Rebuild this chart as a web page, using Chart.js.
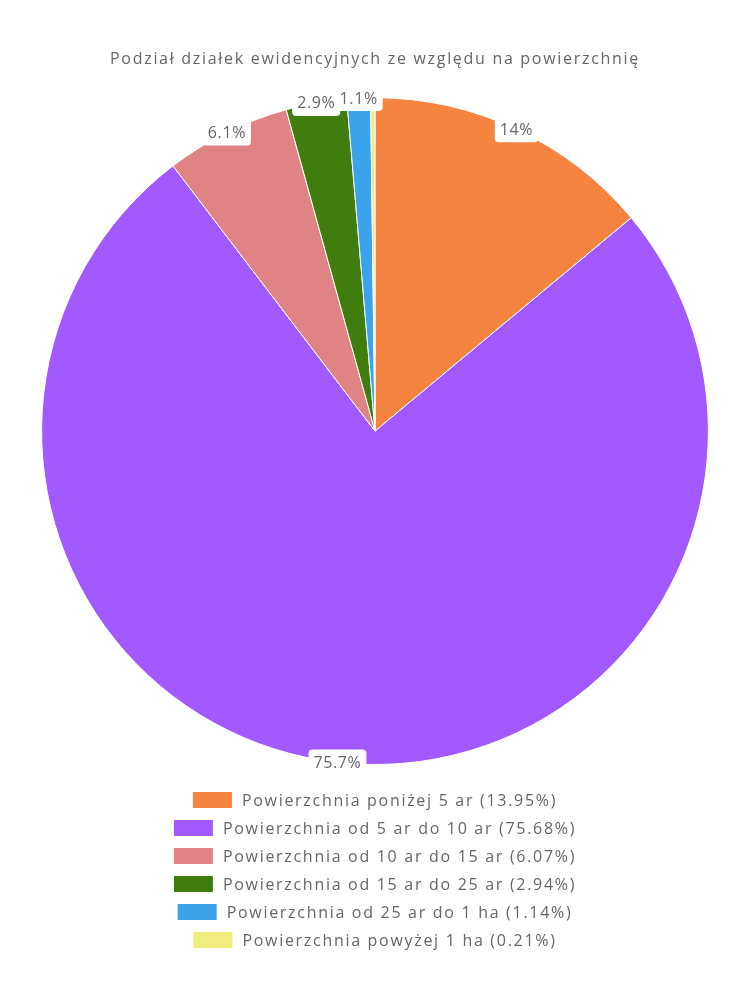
<!DOCTYPE html>
<html>
<head>
<meta charset="utf-8">
<title>Podział działek</title>
<script src="https://cdn.jsdelivr.net/npm/chart.js"></script>
<style>
  body { margin: 0; background: #fff; }
  #wrap { width: 750px; height: 1000px; }
</style>
</head>
<body>
<div id="wrap"><canvas id="pie"></canvas></div>
<script>
'use strict';

const titleText = 'Podział działek ewidencyjnych ze względu na powierzchnię';
const categories = [
    'Powierzchnia poniżej 5 ar',
    'Powierzchnia od 5 ar do 10 ar',
    'Powierzchnia od 10 ar do 15 ar',
    'Powierzchnia od 15 ar do 25 ar',
    'Powierzchnia od 25 ar do 1 ha',
    'Powierzchnia powyżej 1 ha'
];
const values = [13.95, 75.68, 6.07, 2.94, 1.14, 0.21];
const colors = ['#f58440', '#a259ff', '#e08384', '#3f7d0e', '#3aa3eb', '#f0ec7e'];

const FONT = "'Open Sans', sans-serif";
const TEXT = '#666';
const SPACING = '1.7px';

// wider tracking so the text takes roughly the room of the original rounded font
const tracking = {
    id: 'tracking',
    beforeDraw(chart) {
        chart.ctx.letterSpacing = SPACING;
    }
};

// labels on the outer edge of each slice, white rounded box behind
const sliceLabels = {
    id: 'sliceLabels',
    afterDatasetsDraw(chart) {
        const ctx = chart.ctx;
        const meta = chart.getDatasetMeta(0);
        ctx.save();
        ctx.font = '16px ' + FONT;
        ctx.letterSpacing = '0.6px';
        ctx.textAlign = 'center';
        ctx.textBaseline = 'middle';
        meta.data.forEach(function (arc, i) {
            const v = values[i];
            if (v < 1) return;
            const p = arc.getProps(['x', 'y', 'startAngle', 'endAngle', 'outerRadius'], true);
            const mid = (p.startAngle + p.endAngle) / 2;
            const cx = p.x + Math.cos(mid) * p.outerRadius;
            const cy = p.y + Math.sin(mid) * p.outerRadius;
            const txt = (Math.round(v * 10) / 10) + '%';
            const w = ctx.measureText(txt).width + 10;
            const h = 26;
            ctx.fillStyle = '#fff';
            ctx.beginPath();
            ctx.roundRect(cx - w / 2, cy - h / 2, w, h, 4);
            ctx.fill();
            ctx.fillStyle = TEXT;
            ctx.fillText(txt, cx, cy + 1);
        });
        ctx.restore();
    }
};

// one legend entry per row, centred under the pie
const rowLegend = {
    id: 'rowLegend',
    afterDraw(chart) {
        const ctx = chart.ctx;
        const centerX = chart.width / 2;
        const top = chart.chartArea.bottom + 35;
        ctx.save();
        ctx.font = '16px ' + FONT;
        ctx.letterSpacing = SPACING;
        ctx.textBaseline = 'middle';
        ctx.textAlign = 'left';
        categories.forEach(function (name, i) {
            const txt = name + ' (' + values[i].toFixed(2) + '%)';
            const tw = ctx.measureText(txt).width;
            const boxW = 39, gap = 10;
            const total = boxW + gap + tw;
            const x0 = centerX - total / 2;
            const y = top + i * 28;
            ctx.fillStyle = colors[i];
            ctx.fillRect(x0, y - 8, boxW, 16);
            ctx.fillStyle = TEXT;
            ctx.fillText(txt, x0 + boxW + gap, y + 1);
        });
        ctx.restore();
    }
};

new Chart(document.getElementById('pie'), {
    type: 'pie',
    data: {
        labels: categories,
        datasets: [{
            data: values,
            backgroundColor: colors,
            borderColor: '#fff',
            borderWidth: 1
        }]
    },
    options: {
        responsive: true,
        maintainAspectRatio: false,
        animation: false,
        layout: {
            padding: { bottom: 235 }
        },
        plugins: {
            legend: { display: false },
            tooltip: { enabled: false },
            title: {
                display: true,
                text: titleText,
                color: TEXT,
                font: { family: FONT, size: 16, weight: 'normal' },
                padding: { top: 50, bottom: 28 }
            }
        }
    },
    plugins: [tracking, sliceLabels, rowLegend]
});
</script>
</body>
</html>
